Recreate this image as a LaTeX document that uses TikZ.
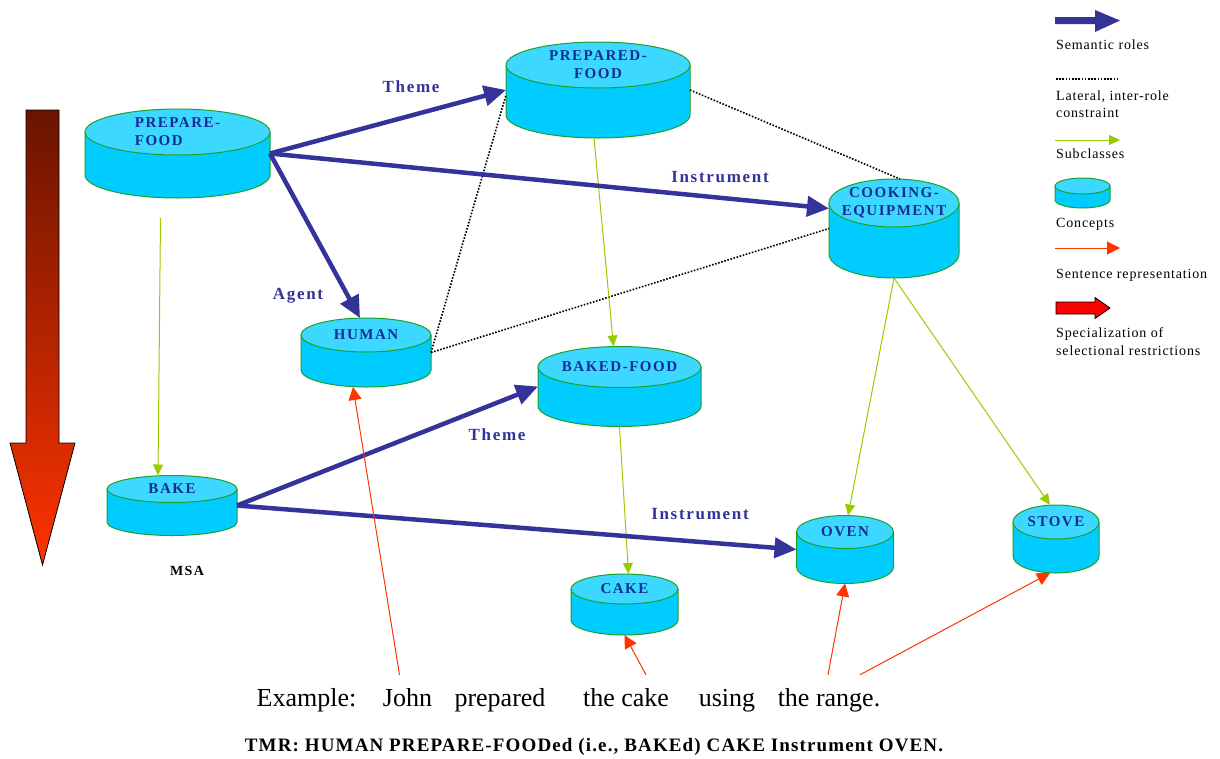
\documentclass[tikz,border=0pt]{standalone}
\usepackage{fontspec}
\setmainfont{Liberation Serif}
\newfontfamily\spacedfont[LetterSpace=10]{Liberation Serif}
\newfontfamily\legfont[LetterSpace=6]{Liberation Serif}
\newfontfamily\tmrfont[LetterSpace=6]{Liberation Serif}
\usetikzlibrary{arrows.meta,calc}
\definecolor{cylbodyc}{RGB}{0,204,255}
\definecolor{cyltopc}{RGB}{60,216,255}
\definecolor{cylline}{RGB}{30,160,40}
\definecolor{labblue}{RGB}{20,45,150}
\definecolor{roleblue}{RGB}{51,51,153}
\definecolor{subgreen}{RGB}{153,204,0}
\definecolor{sentred}{RGB}{255,51,0}
\definecolor{darkmaroon}{RGB}{105,20,0}
\definecolor{brightred}{RGB}{255,51,0}
\tikzset{
  cylbox/.style={inner sep=0pt, outer sep=0pt, draw=none, rectangle},
  cyltext/.style={text=labblue, font=\spacedfont\bfseries\fontsize{15}{18}\selectfont, align=center, inner sep=0pt},
  cylfill/.style={fill=cylbodyc},
  cyledge/.style={draw=cylline, line width=1pt},
  cyltopstyle/.style={fill=cyltopc, draw=cylline, line width=1pt},
  role/.style={draw=roleblue, line width=4.5pt, -{Triangle[length=22pt,width=20pt]}},
  subcl/.style={draw=subgreen, line width=1pt, -{Triangle[length=11pt,width=10pt]}},
  sent/.style={draw=sentred, line width=1pt, -{Triangle[length=13pt,width=13pt]}},
  lateral/.style={draw=black, line width=1.6pt, dash pattern=on 1.6pt off 1.6pt},
  rolelab/.style={text=roleblue, font=\spacedfont\bfseries\fontsize{17}{19}\selectfont, inner sep=0pt},
  legtext/.style={font=\legfont\fontsize{14}{16}\selectfont, anchor=base west, inner sep=0pt},
  word/.style={font=\fontsize{26}{28}\selectfont, anchor=base, inner sep=0pt},
}
% #1 options for text, #2 name, #3 cx, #4 y top-centre, #5 y bottom-centre, #6 rx, #7 ry, #8 text
\newcommand\cylinderconcept[8][]{%
  \fill[cylfill] (#3-#6,#4) -- (#3-#6,#5) arc[start angle=180,end angle=0,x radius=#6,y radius=#7] -- (#3+#6,#4) -- cycle;
  \draw[cyledge] (#3-#6,#4) -- (#3-#6,#5) arc[start angle=180,end angle=0,x radius=#6,y radius=#7] -- (#3+#6,#4);
  \draw[cyltopstyle] (#3,#4) ellipse[x radius=#6,y radius=#7];
  \node[cylbox, minimum width={2*#6*1pt}, minimum height={(#5-#4+2*#7)*1pt}] (#2) at (#3,{(#4+#5)/2}) {};
  \node[cyltext,#1] (#2-t) at (#3,#4) {#8};
}
\begin{document}
\begin{tikzpicture}[x=1pt,y=-1pt]
\path[use as bounding box, fill=white] (0,0) rectangle (1220,758);

% big gradient arrow
\shade[top color=darkmaroon, bottom color=brightred, draw=black, line width=0.8pt]
  (26,110) -- (59,110) -- (59,443) -- (75,443) -- (42.5,565) -- (10,443) -- (26,443) -- cycle;

% concepts
\cylinderconcept[align=left]{pf}{177.5}{132}{175}{92.5}{23}{PREPARE-\\FOOD}
\cylinderconcept{pd}{598}{65}{115}{92}{23}{PREPARED-\\FOOD}
\cylinderconcept{ce}{894}{203}{254}{65}{24}{COOKING-\\EQUIPMENT}
\cylinderconcept{hu}{366}{335}{370}{65}{17}{HUMAN}
\cylinderconcept{bk}{172}{489}{522}{65}{13.5}{BAKE}
\cylinderconcept{bf}{619.5}{367}{406}{81.5}{20.5}{BAKED-FOOD}
\cylinderconcept{ov}{845}{532}{567}{48.5}{16.5}{OVEN}
\cylinderconcept{st}{1056}{522}{556}{43}{17}{STOVE}
\cylinderconcept{ck}{624.5}{589}{620}{53.5}{15}{CAKE}

% lateral constraints
\draw[lateral] (hu.east) -- ([yshift=-5pt]pd.west);
\draw[lateral] (hu.east) -- (ce.west);
\draw[lateral] (pd.east) -- ([xshift=6pt]ce.north);

% subclasses
\draw[subcl] ([xshift=-17pt,yshift=-20pt]pf.south) -- ([xshift=-14pt]bk.north);
\draw[subcl] ([xshift=-4pt]pd.south) -- ([xshift=-6pt]bf.north);
\draw[subcl] (bf.south) -- ([xshift=4pt]ck.north);
\draw[subcl] (ce.south) -- ([xshift=3pt]ov.north);
\draw[subcl] (ce.south) -- ([xshift=-6pt]st.north);

% semantic roles
\draw[role] (pf.east) -- (pd.west);
\draw[role] (pf.east) -- ([yshift=20pt]ce.west);
\draw[role] (pf.east) -- ([xshift=-6pt]hu.north);
\draw[role] (bk.east) -- (bf.west);
\draw[role] (bk.east) -- (ov.west);

% role labels
\node[rolelab] (l-theme1) at (411,87) {Theme};
\node[rolelab] (l-instr1) at (720,177) {Instrument};
\node[rolelab] (l-agent) at (298,296) {Agent};
\node[rolelab] (l-theme2) at (497,435) {Theme};
\node[rolelab] (l-instr2) at (700,514) {Instrument};
\node[inner sep=0pt, font=\spacedfont\bfseries\fontsize{14}{16}\selectfont] (msa) at (187,571) {MSA};

% example sentence
\node[word] (ex) at (306.5,706) {Example:};
\node[word] (john) at (407.5,706) {John};
\node[word] (prep) at (500,706) {prepared};
\node[word] (thecake) at (626,706) {the cake};
\node[word] (using) at (727,706) {using};
\node[word] (therange) at (829,706) {the range.};
\node[anchor=base, inner sep=0pt, font=\tmrfont\bfseries\fontsize{19}{21}\selectfont] (tmr) at (594,751) {TMR: HUMAN PREPARE-FOODed (i.e., BAKEd) CAKE Instrument OVEN.};

% sentence representation
\draw[sent] ([xshift=-8pt,yshift=13pt]john.north) -- ([xshift=-13pt]hu.south);
\draw[sent] ([xshift=20pt,yshift=13pt]thecake.north) -- (ck.south);
\draw[sent] ([xshift=-1pt,yshift=13pt]therange.north) -- (ov.south);
\draw[sent] ([xshift=31pt,yshift=13pt]therange.north) -- ([xshift=-6pt]st.south);

% legend
\fill[roleblue] (1055,17) -- (1095,17) -- (1095,10) -- (1120,20.5) -- (1095,32) -- (1095,24) -- (1055,24) -- cycle;
\node[legtext] (lg1) at (1056,49) {Semantic roles};
\draw[lateral] (1056,79) -- (1117,79);
\node[legtext] (lg2a) at (1056,100) {Lateral, inter-role};
\node[legtext] (lg2b) at (1056,117) {constraint};
\draw[subcl] (1055,140) -- (1120,140);
\node[legtext] (lg3) at (1056,158) {Subclasses};
\fill[cylfill] (1055,186) -- (1055,200) arc[start angle=180,end angle=0,x radius=27.5,y radius=8] -- (1110,186) -- cycle;
\draw[cyledge] (1055,186) -- (1055,200) arc[start angle=180,end angle=0,x radius=27.5,y radius=8] -- (1110,186);
\draw[cyltopstyle] (1082.5,186) ellipse[x radius=27.5,y radius=8];
\node[legtext] (lg4) at (1056,227) {Concepts};
\draw[sent] (1055,248) -- (1120,248);
\node[legtext] (lg5) at (1056,278) {Sentence representation};
\draw[fill=red, draw=black, line width=0.8pt] (1056,302) -- (1095,302) -- (1095,297.5) -- (1110,308) -- (1095,318.5) -- (1095,314) -- (1056,314) -- cycle;
\node[legtext] (lg6a) at (1056,337) {Specialization of};
\node[legtext] (lg6b) at (1056,355) {selectional restrictions};
\end{tikzpicture}
\end{document}
